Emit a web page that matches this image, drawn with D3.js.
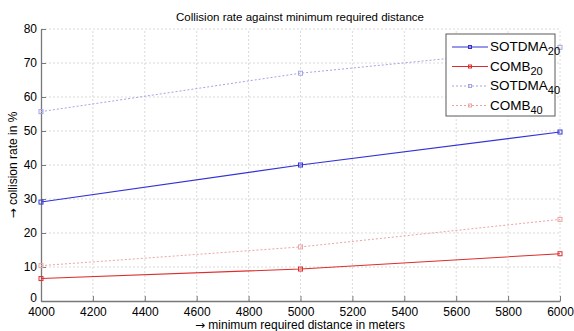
<!DOCTYPE html>
<html>
<head>
    <meta charset="utf-8">
    <title>Collision rate</title>
    <script src="https://d3js.org/d3.v7.min.js"></script>
</head>
<style>
    body {
        margin: 0px;
        background-color: white;
        overflow: hidden;
    }
    text {
        font-family: "Liberation Sans", Arial, sans-serif;
    }
    .arrow {
        font-family: "DejaVu Sans", sans-serif;
    }
    .grid line {
        stroke: rgb(218, 218, 218);
        stroke-width: 1px;
        stroke-dasharray: 2, 2;
    }
</style>
<body>
    <svg id="svg"></svg>
    <script>
        // data
        var distances = [4000, 5000, 6000]
        var sotdma20 = [29.1, 40.0, 49.7]
        var comb20 = [6.6, 9.4, 13.9]
        var sotdma40 = [55.7, 67.0, 74.6]
        var comb40 = [10.4, 15.9, 24.0]
        var xTicks = [4000, 4200, 4400, 4600, 4800, 5000, 5200, 5400, 5600, 5800, 6000]
        var yTicks = [0, 10, 20, 30, 40, 50, 60, 70, 80]

        var series = [
            { name: "SOTDMA", sub: "20", values: sotdma20, color: "rgb(50, 50, 215)", dash: null, width: 1.1 },
            { name: "COMB", sub: "20", values: comb20, color: "rgb(222, 45, 45)", dash: null, width: 1.1 },
            { name: "SOTDMA", sub: "40", values: sotdma40, color: "rgb(165, 165, 225)", dash: "2,2", width: 1 },
            { name: "COMB", sub: "40", values: comb40, color: "rgb(235, 165, 165)", dash: "2,2", width: 1 }
        ]

        var width = 574
        var height = 331
        var margin = { left: 41, right: 14, top: 29, bottom: 30 }

        var svg = d3.select("svg")
            .attr("width", width)
            .attr("height", height)

        var x = d3.scaleLinear().domain([4000, 6000]).range([margin.left, width - margin.right])
        var y = d3.scaleLinear().domain([0, 80]).range([height - margin.bottom, margin.top])

        // grid
        var grid = svg.append("g").attr("class", "grid")
        grid.selectAll(".vx")
            .data(xTicks.slice(1))
            .join("line")
            .attr("x1", d => x(d)).attr("x2", d => x(d))
            .attr("y1", y(0)).attr("y2", y(80))
        grid.selectAll(".hy")
            .data(yTicks.slice(1))
            .join("line")
            .attr("x1", x(4000)).attr("x2", x(6000))
            .attr("y1", d => y(d)).attr("y2", d => y(d))

        // axes
        var xAxis = svg.append("g")
            .attr("transform", "translate(0," + y(0) + ")")
            .call(d3.axisBottom(x).tickValues(xTicks).tickFormat(d3.format("d")).tickSizeInner(-5).tickSizeOuter(0).tickPadding(6))
        var yAxis = svg.append("g")
            .attr("transform", "translate(" + x(4000) + ",0)")
            .call(d3.axisLeft(y).tickValues(yTicks).tickSizeInner(-5).tickSizeOuter(0).tickPadding(4))

        svg.selectAll(".domain").attr("stroke", "rgb(120, 120, 120)").attr("stroke-width", 1.3)
        svg.selectAll(".tick line").attr("stroke", "rgb(120, 120, 120)")
        svg.selectAll(".tick text")
            .attr("font-size", 12)
            .attr("fill", "black")
            .attr("font-family", "Liberation Sans, Arial, sans-serif")

        // lift the "0" a bit so it clears the 4000 below it
        yAxis.selectAll(".tick text").filter(d => d === 0).attr("y", -3)

        // lines
        var line = d3.line()
            .x((d, i) => x(distances[i]))
            .y(d => y(d))

        series.slice().reverse().forEach(function (s) {
            svg.append("path")
                .datum(s.values)
                .attr("fill", "none")
                .attr("stroke", s.color)
                .attr("stroke-width", s.width)
                .attr("stroke-dasharray", s.dash)
                .attr("d", line)
            svg.selectAll(null)
                .data(s.values)
                .join("rect")
                .attr("x", (d, i) => x(distances[i]) - 2)
                .attr("y", d => y(d) - 2)
                .attr("width", 4)
                .attr("height", 4)
                .attr("fill", "none")
                .attr("stroke", s.color)
                .attr("stroke-width", 1)
        })

        // title and labels
        svg.append("text")
            .attr("x", 300)
            .attr("y", 21)
            .attr("text-anchor", "middle")
            .attr("font-size", 11.5)
            .text("Collision rate against minimum required distance")

        var xl = svg.append("text")
            .attr("x", 300)
            .attr("y", 329)
            .attr("text-anchor", "middle")
            .attr("font-size", 12)
        xl.append("tspan").attr("class", "arrow").text("\u2192")
        xl.append("tspan").text(" minimum required distance in meters")

        var yl = svg.append("text")
            .attr("transform", "translate(17," + y(40) + ") rotate(-90)")
            .attr("text-anchor", "middle")
            .attr("font-size", 12)
        yl.append("tspan").attr("class", "arrow").text("\u2192")
        yl.append("tspan").text(" collision rate in %")

        // legend
        var legend = svg.append("g").attr("transform", "translate(446,34)")
        legend.append("rect")
            .attr("width", 109)
            .attr("height", 82)
            .attr("fill", "white")
            .attr("stroke", "rgb(90, 90, 90)")
            .attr("stroke-width", 1)

        series.forEach(function (s, i) {
            var ly = 13 + i * 19.5
            legend.append("line")
                .attr("x1", 6).attr("x2", 42)
                .attr("y1", ly).attr("y2", ly)
                .attr("stroke", s.color)
                .attr("stroke-width", s.width)
                .attr("stroke-dasharray", s.dash)
            legend.append("rect")
                .attr("x", 22.5).attr("y", ly - 1.5)
                .attr("width", 3).attr("height", 3)
                .attr("fill", "none")
                .attr("stroke", s.color)
            var t = legend.append("text")
                .attr("x", 44)
                .attr("y", ly + 4)
                .attr("font-size", 13.5)
            t.append("tspan").text(s.name)
            t.append("tspan").attr("dy", 4).attr("font-size", 11).text(s.sub)
        })
    </script>
</body>
</html>
